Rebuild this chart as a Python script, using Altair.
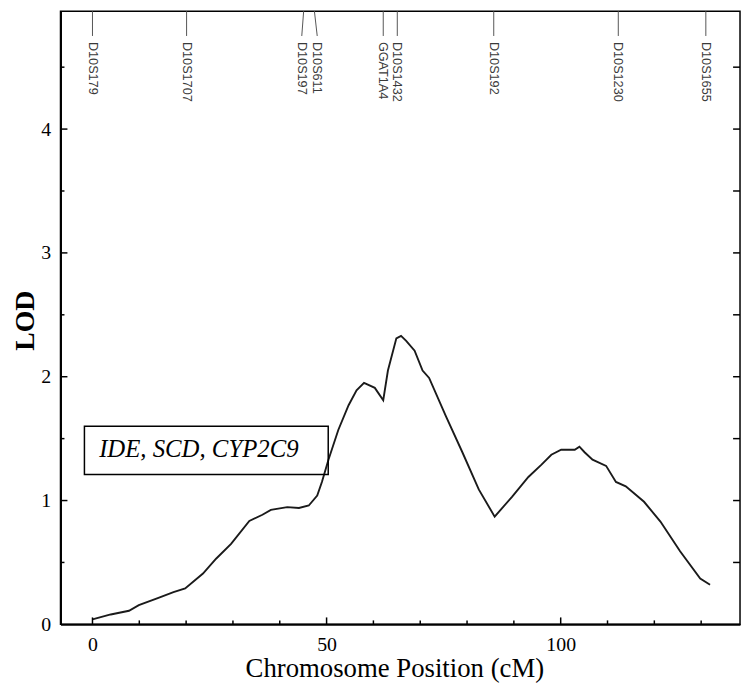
import altair as alt
import pandas as pd

# LOD curve
pos = [0, 3.9, 7.8, 9.9, 13.8, 17.3, 19.8, 23.6, 26.4, 29.6, 33.5, 36.3, 38.1, 41.6,
       44.1, 46.2, 48.0, 49.0, 50.4, 52.5, 54.7, 56.4, 58.0, 60.3, 62.1, 63.1, 64.9,
       65.9, 67.0, 68.8, 70.5, 71.9, 75.5, 79.0, 82.5, 85.9, 89.6, 93.1, 95.9, 98.0,
       100.1, 103.0, 104.0, 105.1, 106.8, 109.7, 111.8, 113.9, 117.8, 121.3, 125.5,
       129.8, 131.9]
lod = [0.04, 0.08, 0.11, 0.155, 0.21, 0.26, 0.29, 0.41, 0.53, 0.65, 0.835, 0.885,
       0.925, 0.947, 0.94, 0.96, 1.04, 1.15, 1.33, 1.57, 1.77, 1.89, 1.95, 1.91, 1.81,
       2.05, 2.31, 2.33, 2.29, 2.21, 2.05, 1.99, 1.68, 1.39, 1.09, 0.87, 1.03, 1.19,
       1.29, 1.37, 1.41, 1.41, 1.435, 1.39, 1.33, 1.28, 1.15, 1.115, 0.99, 0.83, 0.59,
       0.37, 0.32]

# Markers along the top
marker_names = ["D10S179", "D10S1707", "D10S197", "D10S611", "GGAT1A4",
                "D10S1432", "D10S192", "D10S1230", "D10S1655"]
marker_pos = [0.0, 20.1, 45.1, 47.4, 62.1, 65.1, 85.7, 112.3, 131.0]
marker_label_pos = [0.0, 20.1, 44.7, 48.0, 62.1, 65.1, 85.7, 112.3, 131.0]

# Axis ticks
x_major = [0, 50, 100]
x_minor = [10, 20, 30, 40, 60, 70, 80, 90, 110, 120, 130]
y_major = [1, 2, 3, 4]
y_minor = [0.5, 1.5, 2.5, 3.5, 4.5]

# Annotation box
box_text = "IDE, SCD, CYP2C9"
box_x = [-1.72, 50.35]
box_y = [1.21, 1.60]
box_text_pos = [1.42, 1.35]

W, H = 686, 619
x_scale = alt.Scale(domain=[-6.83, 138.3], nice=False, zero=False)
y_scale = alt.Scale(domain=[0, 4.952], nice=False, zero=False)

x_axis = alt.Axis(values=x_major, title="Chromosome Position (cM)",
                  ticks=False, grid=False, labelPadding=10,
                  titleX=337, titleY=53, titleBaseline="alphabetic",
                  titleAlign="center")
y_axis = alt.Axis(values=[0, 1, 2, 3, 4], title="LOD", ticks=False,
                  grid=False, labelPadding=10, titleFontWeight="bold",
                  titleFontSize=28, titleX=-27, titleY=312, titleAngle=-90,
                  titleBaseline="alphabetic", titleAlign="center")

curve_df = pd.DataFrame({"pos": pos, "lod": lod})
marker_df = pd.DataFrame({"name": marker_names, "pos": marker_pos, "lpos": marker_label_pos})

line = alt.Chart(curve_df).mark_line(color="#1a1a1a", strokeWidth=1.9).encode(
    x=alt.X("pos:Q", scale=x_scale, axis=x_axis),
    y=alt.Y("lod:Q", scale=y_scale, axis=y_axis),
)

box = alt.Chart(pd.DataFrame({"x1": [box_x[0]], "x2": [box_x[1]],
                              "y1": [box_y[0]], "y2": [box_y[1]]})).mark_rect(
    fillOpacity=0, stroke="black", strokeWidth=1.5).encode(
    x=alt.X("x1:Q", scale=x_scale, axis=x_axis), x2="x2:Q",
    y=alt.Y("y1:Q", scale=y_scale, axis=y_axis), y2="y2:Q")

box_label = alt.Chart(pd.DataFrame({"x": [box_text_pos[0]], "y": [box_text_pos[1]],
                                    "t": [box_text]})).mark_text(
    font="Liberation Serif", fontStyle="italic", fontSize=25, align="left",
    baseline="alphabetic", color="black").encode(
    x=alt.X("x:Q", scale=x_scale, axis=x_axis),
    y=alt.Y("y:Q", scale=y_scale, axis=y_axis), text="t:N")

mlines = alt.Chart(marker_df).mark_rule(color="#555", strokeWidth=1).encode(
    x=alt.X("pos:Q", scale=x_scale, axis=x_axis), x2="lpos:Q",
    y=alt.value(0), y2=alt.value(25))

mtext = alt.Chart(marker_df).mark_text(
    font="Liberation Sans", fontSize=12.8, angle=90, align="left",
    baseline="middle", color="#3a3a3a").encode(
    x=alt.X("lpos:Q", scale=x_scale, axis=x_axis), y=alt.value(31), text="name:N")

def xt(vals, length):
    return alt.Chart(pd.DataFrame({"v": vals})).mark_rule(color="black", strokeWidth=1.5).encode(
        x=alt.X("v:Q", scale=x_scale, axis=x_axis), y=alt.value(H), y2=alt.value(H - length))

def yt(vals, x0, x1):
    return alt.Chart(pd.DataFrame({"v": vals})).mark_rule(color="black", strokeWidth=1.5).encode(
        y=alt.Y("v:Q", scale=y_scale, axis=y_axis), x=alt.value(x0), x2=alt.value(x1))

chart = alt.layer(
    line, box, box_label, mlines, mtext,
    xt(x_major, 7), xt(x_minor, 4),
    yt(y_major, 0, 7), yt(y_minor, 0, 4),
    yt(y_major, W, W - 7), yt(y_minor, W, W - 7),
).properties(
    width=W, height=H,
    padding={"left": 53, "top": 0, "right": 2, "bottom": 60},
    autosize=alt.AutoSizeParams(type="none"),
).configure_view(
    stroke="black", strokeWidth=1.5
).configure_axis(
    labelFont="Liberation Serif", labelFontSize=20, labelColor="black",
    titleFont="Liberation Serif", titleColor="black", titleFontSize=27,
    titleFontWeight="normal", domainColor="black", domainWidth=2,
)

chart.save("out.html", embed_options={"renderer": "svg", "actions": False})
